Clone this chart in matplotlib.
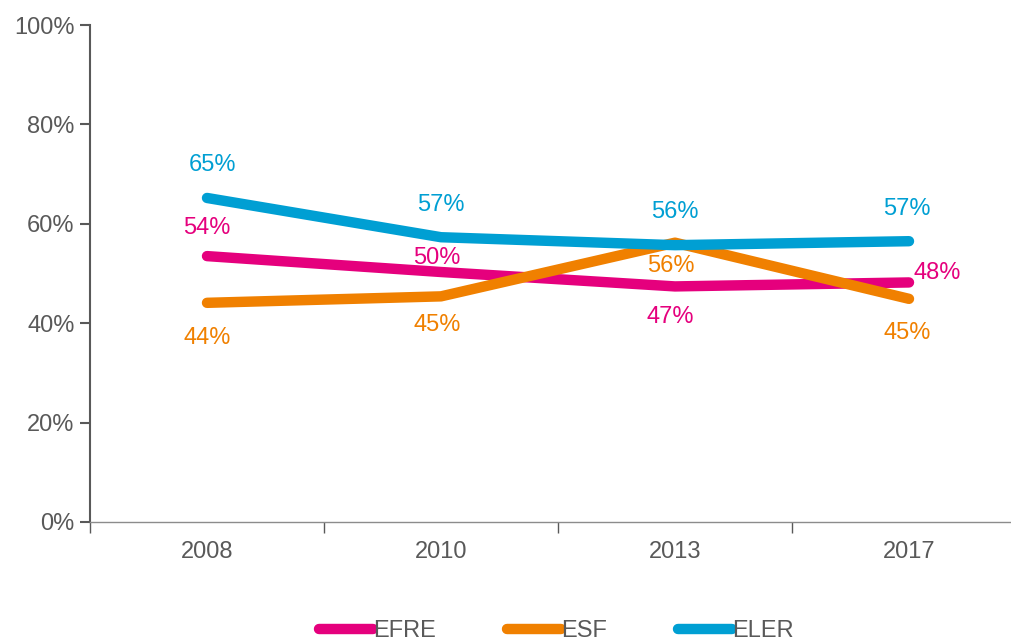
import matplotlib
matplotlib.use("Agg")
import matplotlib.pyplot as plt
from matplotlib.ticker import MultipleLocator, FuncFormatter

plt.rcParams['font.family'] = ['Liberation Sans Narrow', 'Liberation Sans', 'DejaVu Sans']

years = ["2008", "2010", "2013", "2017"]
efre = [53.5, 50.3, 47.4, 48.2]
esf = [44.1, 45.4, 56.2, 44.9]
eler = [65.2, 57.3, 55.7, 56.5]

efre_labels = ["54%", "50%", "47%", "48%"]
esf_labels = ["44%", "45%", "56%", "45%"]
eler_labels = ["65%", "57%", "56%", "57%"]

c_efre = "#E5007D"
c_esf = "#F08000"
c_eler = "#009FD3"
grey = "#595959"

# label offsets in pixels (dx, dy) relative to the point
off_efre = [(0, 28), (-4, 14), (-5, -31), (28, 9)]
off_esf = [(0, -35), (-4, -29), (-4, -23), (-2, -34)]
off_eler = [(5, 33), (0, 32), (0, 33), (-2, 32)]

fig = plt.figure(figsize=(10.11, 6.39), dpi=100)
ax = fig.add_axes([90 / 1011, 117 / 639, 936 / 1011, 497 / 639])

x = list(range(len(years)))
series = [
    ("EFRE", efre, efre_labels, off_efre, c_efre, 2),
    ("ESF", esf, esf_labels, off_esf, c_esf, 3),
    ("ELER", eler, eler_labels, off_eler, c_eler, 4),
]
for name, vals, labs, offs, col, z in series:
    ax.plot(x, vals, color=col, lw=7.5, solid_capstyle="round", label=name, zorder=z)
    for xi, v, lab, (dx, dy) in zip(x, vals, labs, offs):
        ax.annotate(lab, (xi, v), xytext=(dx * 0.72, dy * 0.72), textcoords="offset points",
                    ha="center", va="center", color=col, fontsize=17)

ax.set_xlim(-0.5, 3.5)
ax.set_ylim(0, 100)
ax.yaxis.set_major_locator(MultipleLocator(20))
ax.yaxis.set_major_formatter(FuncFormatter(lambda v, p: f"{int(v)}%"))

ax.set_xticks([i - 0.5 for i in range(5)])
ax.set_xticklabels([])
ax.set_xticks(x, minor=True)
ax.set_xticklabels(years, minor=True)
ax.tick_params(axis="x", which="major", length=8, color=grey, width=1, direction="out")
ax.tick_params(axis="x", which="minor", length=0, pad=14, labelsize=17, labelcolor=grey)
ax.tick_params(axis="y", length=7, color=grey, width=1.5, pad=4, labelsize=17, labelcolor=grey)

for s in ["top", "right"]:
    ax.spines[s].set_visible(False)
ax.spines["left"].set_color(grey)
ax.spines["left"].set_linewidth(1.5)
ax.spines["bottom"].set_color("#8c8c8c")
ax.spines["bottom"].set_linewidth(1)

leg = fig.legend(loc="center", bbox_to_anchor=(556 / 1011, 8 / 639), ncol=3, frameon=False,
                 fontsize=17, handlelength=2.3, handletextpad=0.0, columnspacing=3.0,
                 labelcolor=grey)
for h in leg.legend_handles:
    h.set_linewidth(7.5)
    h.set_solid_capstyle("round")

fig.savefig("out.png", dpi=100)
